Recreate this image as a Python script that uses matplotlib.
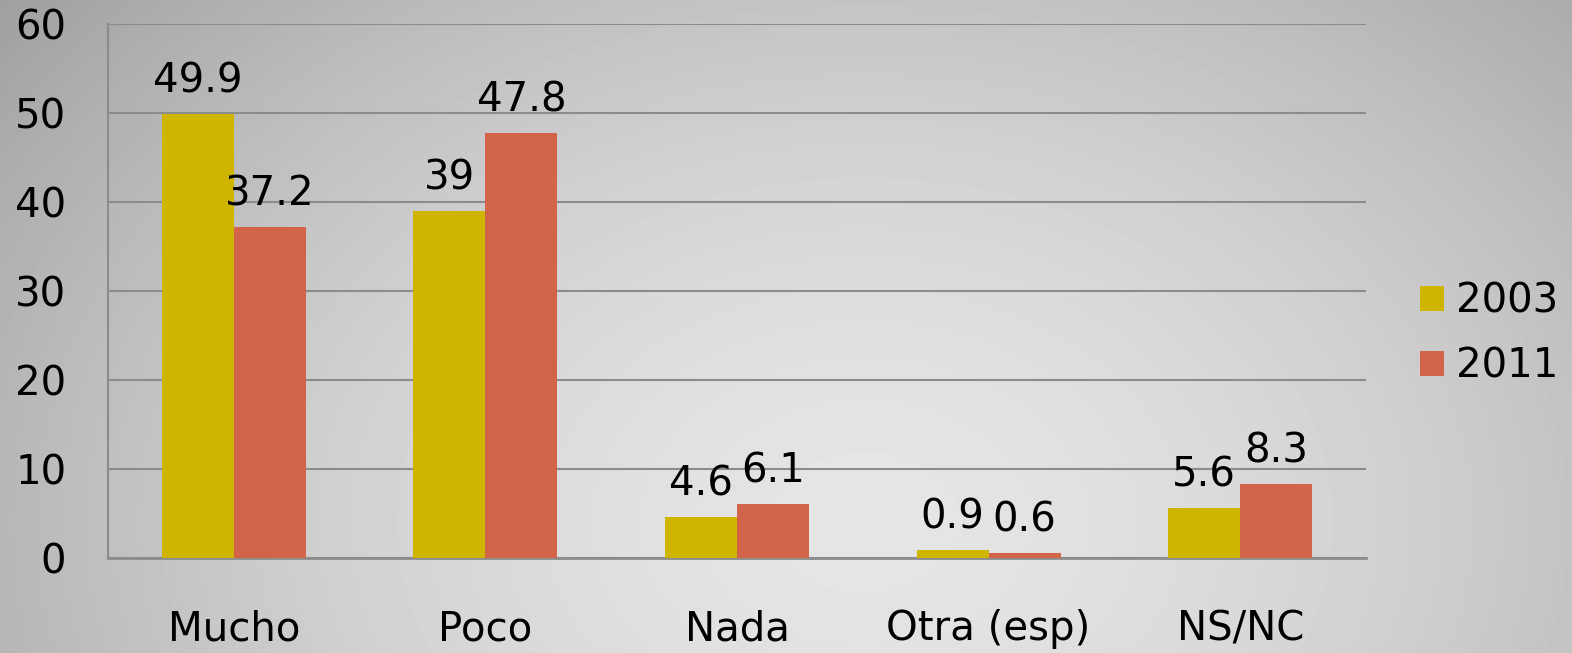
import numpy as np
import matplotlib
matplotlib.use("Agg")
import matplotlib.pyplot as plt

# ----------------------------
# Data
# ----------------------------
categories = ["Mucho", "Poco", "Nada", "Otra (esp)", "NS/NC"]
series_names = ["2003", "2011"]
values_2003 = [49.9, 39, 4.6, 0.9, 5.6]
values_2011 = [37.2, 47.8, 6.1, 0.6, 8.3]
y_ticks = [0, 10, 20, 30, 40, 50, 60]

colors = ["#CFB500", "#D2644A"]
grid_col = "#8C8C8C"

plt.rcParams["font.family"] = "DejaVu Sans"
W, H = 1572, 653
fig = plt.figure(figsize=(W / 100, H / 100), dpi=100)

# radial gray background
bg = fig.add_axes([0, 0, 1, 1])
yy, xx = np.mgrid[0:H, 0:W]
r = np.sqrt(((xx - W * 0.55) / (W * 0.62)) ** 2 + ((yy - H * 0.8) / (H * 1.1)) ** 2)
shade = np.clip(0.90 - 0.22 * r ** 1.6, 0.62, 0.92)
bg.imshow(shade, cmap="gray", vmin=0, vmax=1, aspect="auto", extent=[0, 1, 0, 1])
bg.axis("off")

left, right, top, bottom = 108 / W, 1366 / W, 24 / H, 558 / H
ax = fig.add_axes([left, 1 - bottom, right - left, bottom - top])
ax.set_facecolor("none")

x = np.arange(len(categories))
bw = 0.286
fs = 29
for i, vals in enumerate([values_2003, values_2011]):
    offs = (i - 0.5) * bw
    bars = ax.bar(x + offs, vals, bw, color=colors[i], label=series_names[i], zorder=3)
    for b, v in zip(bars, vals):
        ax.annotate(f"{v:g}", (b.get_x() + b.get_width() / 2, v),
                    textcoords="offset points", xytext=(0, 9),
                    ha="center", va="bottom", fontsize=fs, zorder=4)

ax.set_xlim(-0.5, len(categories) - 0.5)
ax.set_ylim(0, 60)
ax.set_yticks(y_ticks)
ax.set_yticklabels([str(t) for t in y_ticks])
ax.set_xticks(x)
ax.set_xticklabels(categories)
ax.tick_params(axis="y", length=0, pad=30, labelsize=fs)
ax.tick_params(axis="x", length=0, pad=37, labelsize=fs)

ax.grid(axis="y", color=grid_col, lw=1.5, zorder=1)
for s in ["top", "right"]:
    ax.spines[s].set_visible(False)
ax.spines["left"].set_color(grid_col)
ax.spines["left"].set_linewidth(1.5)
ax.spines["bottom"].set_color(grid_col)
ax.spines["bottom"].set_linewidth(2)

fig.legend(loc="center left", bbox_to_anchor=(1400 / W, 1 - 334 / H),
           frameon=False, fontsize=fs, handlelength=0.6, handleheight=0.6,
           handletextpad=0.3, labelspacing=0.62, borderpad=0)

fig.savefig("out.png", dpi=100)
